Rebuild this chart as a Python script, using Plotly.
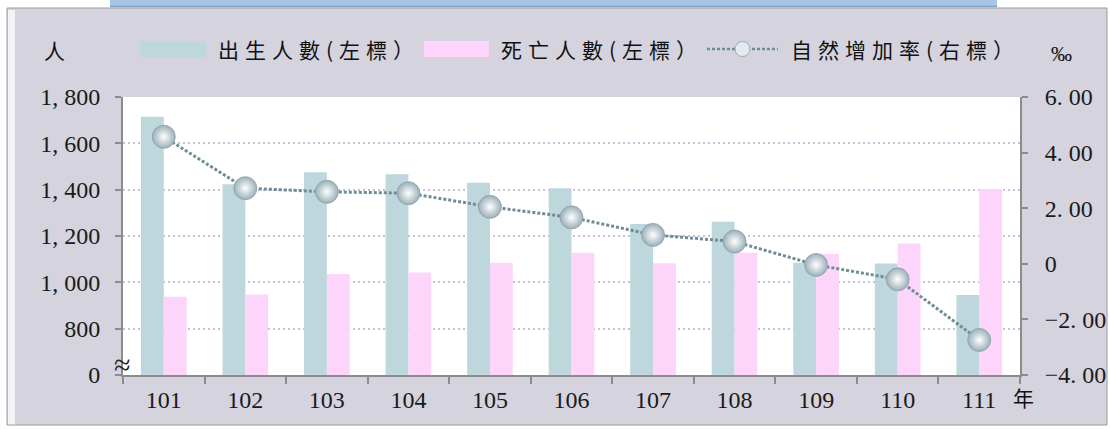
import plotly.graph_objects as go

# ---------------- data ----------------
years = ["101", "102", "103", "104", "105", "106", "107", "108", "109", "110", "111"]
births = [1715, 1423, 1475, 1467, 1430, 1406, 1252, 1262, 1085, 1081, 945]
deaths = [938, 948, 1036, 1042, 1085, 1128, 1082, 1128, 1122, 1168, 1403]
rate = [4.57, 2.72, 2.59, 2.54, 2.05, 1.67, 1.04, 0.80, -0.04, -0.56, -2.74]

left_tickvals = [600, 800, 1000, 1200, 1400, 1600, 1800]
left_ticktext = ["0", "800", "1, 000", "1, 200", "1, 400", "1, 600", "1, 800"]
right_tickvals = [-4, -2, 0, 2, 4, 6]
right_ticktext = ["\u22124. 00", "\u22122. 00", "0", "2. 00", "4. 00", "6. 00"]

legend_names = ["出生人數(左標）", "死亡人數(左標）", "自然增加率(右標）"]

# ---------------- style ----------------
W, H = 1110, 430
L, R, T, B = 123, 1020, 97, 375
PW, PH = R - L, B - T

NUM_FONT = "Liberation Serif, Times New Roman, serif"
CJK_FONT = "Noto Sans CJK TC, sans-serif"
TEAL = "#bdd7dc"
PINK = "#fdd5fb"
FRAME = "#d4d3de"
AXIS = "#8c8c8c"
GRID = "#c6c1d8"
LINE = "#6f8d97"


def px(x):
    return (x - L) / PW


def py(y):
    return (B - y) / PH


fig = go.Figure()
fig.add_trace(go.Bar(x=years, y=births, name=legend_names[0], marker=dict(color=TEAL, line=dict(width=0)),
                     yaxis="y", showlegend=False))
fig.add_trace(go.Bar(x=years, y=deaths, name=legend_names[1], marker=dict(color=PINK, line=dict(width=0)),
                     yaxis="y", showlegend=False))
fig.add_trace(go.Scatter(x=years, y=rate, name=legend_names[2], yaxis="y2", mode="lines+markers",
                         line=dict(color=LINE, width=3, dash="3px,2px"),
                         marker=dict(size=23, color="#9bb0b8",
                                     gradient=dict(type="radial", color="#ffffff"),
                                     line=dict(width=0.8, color="#8aa0a9")),
                         showlegend=False))

shapes = []
# white outer margins
shapes.append(dict(type="rect", xref="paper", yref="paper", x0=px(0), x1=px(7), y0=py(0), y1=py(H),
                   fillcolor="white", line=dict(width=0), layer="below"))
shapes.append(dict(type="rect", xref="paper", yref="paper", x0=px(0), x1=px(W), y0=py(0), y1=py(8),
                   fillcolor="white", line=dict(width=0), layer="below"))
shapes.append(dict(type="rect", xref="paper", yref="paper", x0=px(1107), x1=px(W), y0=py(0), y1=py(H),
                   fillcolor="white", line=dict(width=0), layer="below"))
shapes.append(dict(type="rect", xref="paper", yref="paper", x0=px(0), x1=px(W), y0=py(425), y1=py(H),
                   fillcolor="white", line=dict(width=0), layer="below"))
# light bevel on left
shapes.append(dict(type="rect", xref="paper", yref="paper", x0=px(8), x1=px(15), y0=py(10), y1=py(425),
                   fillcolor="#f4f3f7", line=dict(width=0), layer="below"))
# frame border
shapes.append(dict(type="rect", xref="paper", yref="paper", x0=px(7), x1=px(1107), y0=py(8), y1=py(425),
                   fillcolor="rgba(0,0,0,0)", line=dict(color="#9c9c9c", width=1), layer="below"))
# blue title bar at top
shapes.append(dict(type="rect", xref="paper", yref="paper", x0=px(110), x1=px(997), y0=py(0), y1=py(7),
                   fillcolor="#a9c5e4", line=dict(width=0), layer="above"))
shapes.append(dict(type="line", xref="paper", yref="paper", x0=px(110), x1=px(997), y0=py(6.5), y1=py(6.5),
                   line=dict(color="#7f9fc6", width=1.5), layer="above"))

# custom legend
LEG_Y = 49
shapes.append(dict(type="rect", xref="paper", yref="paper", x0=px(140), x1=px(206), y0=py(LEG_Y - 8),
                   y1=py(LEG_Y + 8), fillcolor=TEAL, line=dict(width=0), layer="above"))
shapes.append(dict(type="rect", xref="paper", yref="paper", x0=px(424), x1=px(489), y0=py(LEG_Y - 8),
                   y1=py(LEG_Y + 8), fillcolor=PINK, line=dict(width=0), layer="above"))
shapes.append(dict(type="line", xref="paper", yref="paper", x0=px(707), x1=px(778), y0=py(LEG_Y), y1=py(LEG_Y),
                   line=dict(color=LINE, width=2.5, dash="3px,2px"), layer="above"))
shapes.append(dict(type="circle", xref="paper", yref="paper", x0=px(735), x1=px(750), y0=py(LEG_Y - 7.5),
                   y1=py(LEG_Y + 7.5), fillcolor="#e4eaed", line=dict(color="#98adb5", width=1), layer="above"))

annotations = []
leg_font = dict(family=CJK_FONT, size=21, color="#111111")
for text, x0 in zip(legend_names, [216, 499, 789]):
    annotations.append(dict(xref="paper", yref="paper", x=px(x0), y=py(LEG_Y), xanchor="left", yanchor="middle",
                            text='<span style="letter-spacing:6px">' + text + "</span>",
                            showarrow=False, font=leg_font))
annotations.append(dict(xref="paper", yref="paper", x=px(54), y=py(LEG_Y + 1), xanchor="center", yanchor="middle",
                        text="人", showarrow=False, font=leg_font))
annotations.append(dict(xref="paper", yref="paper", x=px(1061), y=py(LEG_Y + 5), xanchor="center",
                        yanchor="middle", text="‰", showarrow=False,
                        font=dict(family=NUM_FONT, size=21, color="#111111")))
annotations.append(dict(xref="paper", yref="paper", x=px(1023), y=py(397), xanchor="center", yanchor="middle",
                        text="年", showarrow=False, font=leg_font))
annotations.append(dict(xref="paper", yref="paper", x=px(122), y=py(364), xanchor="center", yanchor="middle",
                        text="≈", showarrow=False, font=dict(family=NUM_FONT, size=30, color="#222222")))

tick_font = dict(family=NUM_FONT, size=24, color="#1a1a1a")

fig.update_layout(
    width=W, height=H,
    margin=dict(l=L, r=W - R, t=T, b=H - B, pad=0, autoexpand=False),
    paper_bgcolor=FRAME,
    plot_bgcolor="white",
    barmode="group",
    bargap=0.44,
    bargroupgap=0.0,
    showlegend=False,
    shapes=shapes,
    annotations=annotations,
    xaxis=dict(type="category", range=[-0.5, len(years) - 0.5], showline=True, linecolor=AXIS, linewidth=2,
               ticks="outside", tickson="boundaries", ticklen=7, tickcolor=AXIS, tickwidth=2,
               tickfont=tick_font, showgrid=False, ticklabelstandoff=2, automargin=False),
    yaxis=dict(range=[600, 1800], tickvals=left_tickvals, ticktext=left_ticktext, showline=True,
               linecolor=AXIS, linewidth=2, ticks="outside", ticklen=6, tickcolor=AXIS, tickwidth=2,
               tickfont=tick_font, showgrid=True, gridcolor=GRID, gridwidth=2, griddash="2px,3px",
               zeroline=False, ticklabelstandoff=10, automargin=False),
    yaxis2=dict(range=[-4, 6], tickvals=right_tickvals, ticktext=right_ticktext, overlaying="y",
                side="right", showline=True, linecolor=AXIS, linewidth=2, ticks="outside", ticklen=6,
                tickcolor=AXIS, tickwidth=2, tickfont=tick_font, showgrid=False, zeroline=False,
                ticklabelstandoff=12, automargin=False),
)

fig.write_html("out.html", config={"displayModeBar": False},
               post_script="document.body.style.margin='0px';document.body.style.overflow='hidden';")
